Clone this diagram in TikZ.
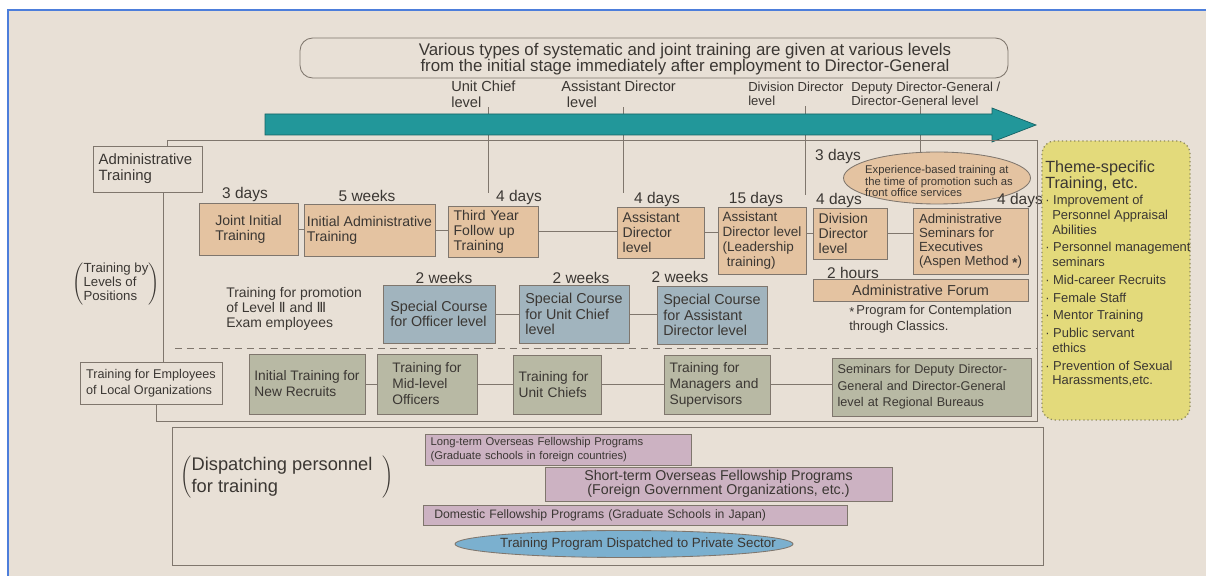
\documentclass[tikz,border=0pt]{standalone}
\usepackage{fontspec}
\setmainfont{Liberation Sans}
\newfontfamily\dejavu{DejaVu Sans}
\usepackage{tikz}
\usetikzlibrary{shapes.geometric}

\newcommand\setfs[2]{\fontsize{#1}{#2}\selectfont\lineskiplimit=-20pt\relax}

\definecolor{inkgray}{HTML}{3B3733}
\definecolor{rulegray}{HTML}{7F766D}
\definecolor{paperbg}{HTML}{E8E0D6}
\definecolor{boxtan}{HTML}{E4C3A1}
\definecolor{boxsteel}{HTML}{A1B4BE}
\definecolor{boxsage}{HTML}{B8B9A4}
\definecolor{boxmauve}{HTML}{CCB2C2}
\definecolor{ovalsky}{HTML}{7BB0CF}
\definecolor{themelemon}{HTML}{E3DA7B}
\definecolor{themedots}{HTML}{8E8A5E}
\definecolor{arrowteal}{HTML}{22979A}
\definecolor{shotblue}{HTML}{4D7EDB}

\tikzset{
  rim/.style={draw=rulegray,line width=0.6pt},
  sz/.style 2 args={minimum width=#1*0.025cm,minimum height=#2*0.025cm},
  bx/.style 2 args={rim,sz={#1}{#2},align=left,inner xsep=4pt,inner ysep=0pt,
    /utils/exec={\pgfmathsetlengthmacro\boxtw{#1*0.025cm-8pt}},text width=\boxtw},
  bc/.style 2 args={rim,sz={#1}{#2},align=left,inner sep=0pt},
  tanbox/.style={fill=boxtan,font=\setfs{10}{10.6}},
  steelbox/.style={fill=boxsteel,font=\setfs{10.2}{11}},
  sagebox/.style={fill=boxsage,font=\setfs{9.8}{11.4}},
  mauvebox/.style={fill=boxmauve},
  dur/.style={font=\setfs{11}{11},inner sep=0pt},
  lvl/.style={anchor=north west,align=left,inner sep=0pt},
  tag/.style={align=left,inner sep=0pt},
  paren/.style={inner sep=0pt}
}

\begin{document}
\begin{tikzpicture}[x=0.025cm,y=-0.025cm,every node/.style={text=inkgray}]
\useasboundingbox (0,0) rectangle (1206,576);
\fill[white] (0,0) rectangle (1206,576);
\fill[paperbg] (8,10) rectangle (1206,576);
\draw[shotblue,line width=1.4pt] (8,576) -- (8,10) -- (1206,10);

\node[rim,rounded corners=9pt,sz={708}{40}] (titlebox) at (654,58) {};
\node[font=\setfs{12}{11},align=center,inner sep=0pt] (titletext) at (685,59) {Various types of systematic and joint training are given at various levels\\from the initial stage immediately after employment to Director-General};

\node[lvl,font=\setfs{10.4}{10.8}] (uclvl) at (451,81) {Unit Chief\\level};
\node[lvl,font=\setfs{10.4}{10.8}] (adlvl) at (561,81) {Assistant Director\\\hspace*{4pt}level};
\node[lvl,font=\setfs{9.3}{10}] (ddlvl) at (748,82) {Division Director\\level};
\node[lvl,font=\setfs{9.3}{10}] (dglvl) at (851,82) {Deputy Director-General /\\Director-General level};
\coordinate (ucfoot) at (488,193);
\coordinate (adfoot) at (623,193);
\coordinate (ddfoot) at (805,195);
\coordinate (dgfoot) at (920,153);
\draw[rim] (uclvl.south -| ucfoot) -- (ucfoot);
\draw[rim] (adlvl.south -| adfoot) -- (adfoot);
\draw[rim] (ddlvl.south -| ddfoot) -- (ddfoot);
\draw[rim] (dglvl.south -| dgfoot) -- (dgfoot);
\filldraw[fill=arrowteal,draw=arrowteal!65!black,line width=0.5pt] (265,114) -- (992,114) -- (992,108) -- (1036,125) -- (992,142) -- (992,135) -- (265,135) -- cycle;

\node[bx={109}{46},font=\setfs{10.6}{11.4}] (admtr) at (147.5,169) {Administrative\\Training};
\node[paren,font=\fontsize{9.4}{9.8}\selectfont] (levtag) at (116,284) {$\left(\begin{tabular}{@{}l@{}}Training by\tabularnewline Levels of\tabularnewline Positions\end{tabular}\right)$};
\node[tag,anchor=west,font=\setfs{9.9}{10.7}] (promo) at (226,309) {Training for promotion\\of Level {\dejavu Ⅱ} and {\dejavu Ⅲ}\\Exam employees};
\node[bc={142}{42},font=\setfs{9}{11.6}] (emp) at (151,383) {Training for Employees\\of Local Organizations};

\node[bc={99}{52},tanbox] (joint) at (248.5,229) {Joint Initial\\Training};
\node[bc={131}{52},tanbox] (initadm) at (369.5,230) {Initial Administrative\\Training};
\node[bx={90}{51},tanbox] (third) at (493,231.5) {Third Year\\Follow up\\Training};
\node[bx={87}{51},tanbox] (adl) at (660.5,232.5) {Assistant\\Director\\level};
\node[bc={88}{67},tanbox,font=\setfs{9.6}{10.8}] (lead) at (762,240.5) {Assistant\\Director level\\(Leadership\\\hspace*{3pt}training)};
\node[bx={74}{51},tanbox] (divd) at (850,233.5) {Division\\Director\\level};
\node[bc={115}{66},tanbox,font=\setfs{9.4}{9.8}] (sem) at (970.5,241) {Administrative\\Seminars for\\Executives\\(Aspen Method \raisebox{-0.3ex}{\textbf{*}})};
\node[bc={215}{22},tanbox,align=center,font=\setfs{10.3}{10.3}] (forum) at (920.5,290) {Administrative Forum};
\node[tag,anchor=north west,font=\setfs{9.2}{11.2}] (classnote) at (849,305) {\raisebox{-0.3ex}{*}\,Program for Contemplation\\through Classics.};

\node[bc={112}{58},steelbox] (spoff) at (439,314) {Special Course\\for Officer level};
\node[bc={110}{58},steelbox] (spuc) at (574,314) {Special Course\\for Unit Chief\\level};
\node[bc={110}{58},steelbox] (spad) at (712,315) {Special Course\\for Assistant\\Director level};

\node[bc={116}{60},sagebox] (nr) at (307,384) {Initial Training for\\New Recruits};
\node[bc={100}{60},sagebox] (mid) at (427,384) {Training for\\Mid-level\\Officers};
\node[bx={88}{59},sagebox] (uch) at (557,384.5) {Training for\\Unit Chiefs};
\node[bx={106}{59},sagebox] (mgr) at (717,384.5) {Training for\\Managers and\\Supervisors};
\node[bx={199}{58},sagebox,font=\setfs{9}{11.6}] (ddgsem) at (931.5,387) {Seminars for Deputy Director-\\General and Director-General\\level at Regional Bureaus};

\node[ellipse,rim,fill=boxtan,sz={187}{52},inner sep=0pt] (expell) at (937,178) {};
\node[tag,font=\setfs{8}{8.5}] (exptxt) at (939,181) {Experience-based training at\\the time of promotion such as\\front office services};

\node[dur] (djoint) at (245,195) {3 days};
\node[dur] (dinit) at (367,196) {5 weeks};
\node[dur] (dthird) at (519,198) {4 days};
\node[dur] (dadl) at (657,200) {4 days};
\node[dur] (dlead) at (756,200) {15 days};
\node[dur] (dexp) at (838,157) {3 days};
\node[dur] (ddivd) at (839,201) {4 days};
\node[dur] (dsem) at (1020,201) {4 days};
\node[dur] (dforum) at (853,273) {2 hours};
\node[dur] (dspoff) at (444,278) {2 weeks};
\node[dur] (dspuc) at (581,278) {2 weeks};
\node[dur] (dspad) at (680,277) {2 weeks};

\coordinate (ftl) at (167,140);
\coordinate (ftr) at (1037,140);
\coordinate (fbr) at (1037,421);
\coordinate (fbl) at (156,421);
\coordinate (fmid) at (163,280);
\draw[rim] (admtr.north -| ftl) -- (ftl) -- (ftr) -- (fbr) -- (fbl) -- (emp.south -| fbl);
\draw[rim] (admtr.south -| fmid) -- (emp.north -| fmid);
\draw[rim,dash pattern=on 5pt off 3.5pt] (175,348) -- (1037,348);

\draw[rim] (joint.east) -- (joint.east -| initadm.west);
\draw[rim] (initadm.east) -- (initadm.east -| third.west);
\draw[rim] (third.east) -- (third.east -| adl.west);
\draw[rim] (adl.east) -- (adl.east -| lead.west);
\draw[rim] (divd.west -| lead.east) -- (divd.west);
\draw[rim] (divd.east) -- (divd.east -| sem.west);
\draw[rim] (spoff.east) -- (spoff.east -| spuc.west);
\draw[rim] (spuc.east) -- (spuc.east -| spad.west);
\draw[rim] (nr.east) -- (nr.east -| mid.west);
\draw[rim] (mid.east) -- (mid.east -| uch.west);
\draw[rim] (uch.east) -- (uch.east -| mgr.west);
\draw[rim] (mgr.east) -- (mgr.east -| ddgsem.west);

\draw[rim] (172,427) rectangle (1043,565);
\node[paren,font=\fontsize{13}{15.5}\selectfont] (disptag) at (287,477) {$\left(\begin{tabular}{@{}l@{}}Dispatching personnel\tabularnewline for training\end{tabular}\hspace{7pt}\right)$};
\node[bx={266}{31},mauvebox,font=\setfs{8}{9.8}] (longt) at (558,449.5) {Long-term Overseas Fellowship Programs\\(Graduate schools in foreign countries)};
\node[bc={347}{34},mauvebox,align=center,font=\setfs{10.1}{10}] (shortt) at (718.5,484) {Short-term Overseas Fellowship Programs\\(Foreign Government Organizations, etc.)};
\node[bx={424}{20},mauvebox,font=\setfs{8.7}{8.7}] (domes) at (635,515) {\hspace*{4pt}Domestic Fellowship Programs (Graduate Schools in Japan)};
\node[ellipse,rim,fill=ovalsky,sz={338}{27},inner sep=0pt] (privsec) at (624,544) {};
\node[font=\setfs{9.5}{9.5},inner sep=0pt] (privtxt) at (638,544) {Training Program Dispatched to Private Sector};

\node[draw=themedots,line width=0.9pt,dotted,fill=themelemon,rounded corners=9pt,sz={148}{279}] (theme) at (1116,280.5) {};
\node[tag,anchor=north west,font=\setfs{11.5}{10.7}] (themehd) at (1045,161) {Theme-specific\\Training, etc.};
\node[tag,anchor=north west,font=\setfs{9.2}{10.5}] (themelist) at (1045,195) {· Improvement of\\
\hspace*{5pt}Personnel Appraisal\\
\hspace*{5pt}Abilities\\[2.1pt]
· Personnel management\\
\hspace*{5pt}seminars\\[2.1pt]
· Mid-career Recruits\\[2.1pt]
· Female Staff\\[2.1pt]
· Mentor Training\\[2.1pt]
· Public servant\\
\hspace*{5pt}ethics\\[2.1pt]
· Prevention of Sexual\\
\hspace*{5pt}Harassments,etc.};
\end{tikzpicture}
\end{document}
